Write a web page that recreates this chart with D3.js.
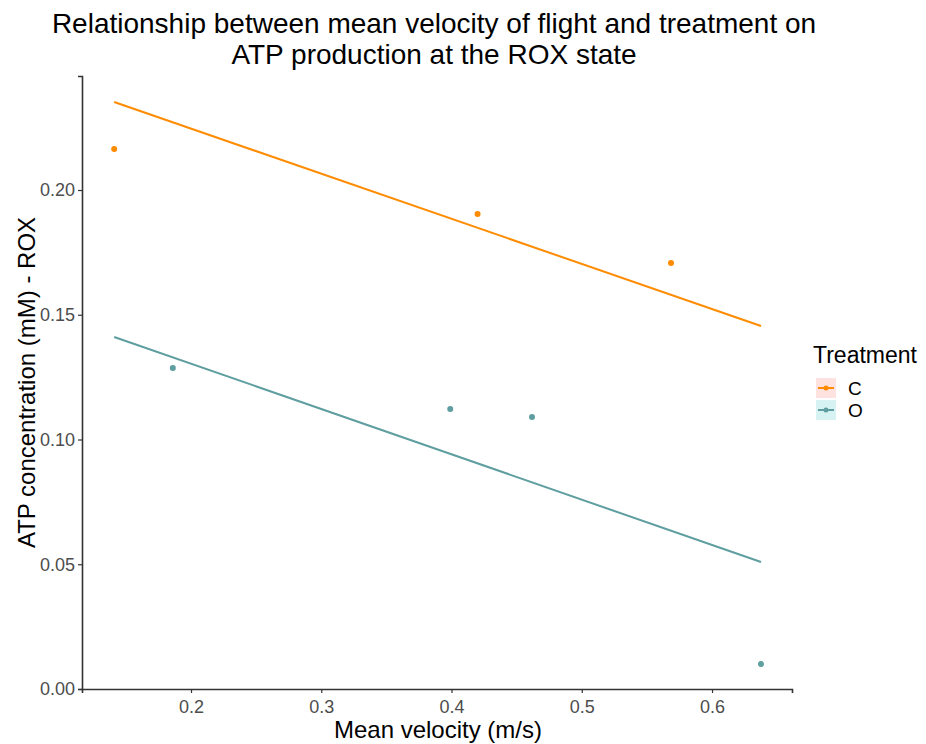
<!DOCTYPE html>
<html><head><meta charset="utf-8">
<script src="https://cdn.jsdelivr.net/npm/d3@7"></script>
<style>body{margin:0;background:#fff}text{font-family:"Liberation Sans",Arial,sans-serif}</style>
</head><body><svg id="c" width="926" height="744"></svg>
<script>
const treatments = ["C", "O"];
const colors = ["#FF8C00", "#5F9EA0"];
const keyFills = ["#FDE2E0", "#D6F2F3"];
const velocityC = [0.141, 0.420, 0.5685];
const atpC = [0.2164, 0.1904, 0.1707];
const velocityO = [0.186, 0.399, 0.4618, 0.6376];
const atpO = [0.1287, 0.1122, 0.1090, 0.0100];
const fitX = [0.141, 0.6376];
const fitC = [0.2353, 0.1455];
const fitO = [0.1411, 0.0509];
const xTicks = [0.2, 0.3, 0.4, 0.5, 0.6];
const yTicks = [0.00, 0.05, 0.10, 0.15, 0.20];

const svg = d3.select("#c");
const L = 82, R = 792, T = 76, B = 689;
const x = d3.scaleLinear().domain([0.1163, 0.6614]).range([L, R]);
const y = d3.scaleLinear().domain([0, 0.2457]).range([B, T]);

const series = [
  {pts: velocityC.map((v,i)=>[v, atpC[i]]), fit: fitX.map((v,i)=>[v, fitC[i]])},
  {pts: velocityO.map((v,i)=>[v, atpO[i]]), fit: fitX.map((v,i)=>[v, fitO[i]])}
];

const line = d3.line().x(d=>x(d[0])).y(d=>y(d[1]));
series.forEach((s, i) => {
  svg.append("path").attr("d", line(s.fit)).attr("fill","none")
    .attr("stroke", colors[i]).attr("stroke-width", 2);
  svg.selectAll(null).data(s.pts).enter().append("circle")
    .attr("cx", d=>x(d[0])).attr("cy", d=>y(d[1])).attr("r", 3)
    .attr("fill", colors[i]);
});

// axes
const xa = svg.append("g").attr("transform", `translate(0,${B})`)
  .call(d3.axisBottom(x).tickValues(xTicks).tickFormat(d3.format(".1f")).tickSizeOuter(0).tickSize(4).tickPadding(7));
const ya = svg.append("g").attr("transform", `translate(${L},0)`)
  .call(d3.axisLeft(y).tickValues(yTicks).tickFormat(d3.format(".2f")).tickSizeOuter(0).tickSize(4).tickPadding(3));
[xa, ya].forEach(a => {
  a.select(".domain").attr("stroke", "#333").attr("stroke-width", 1.6);
  a.selectAll(".tick line").attr("stroke", "#333").attr("stroke-width", 1.2);
  a.selectAll(".tick text").attr("fill", "#4D4D4D").style("font-size", "18px")
    .style("font-family", '"Liberation Sans",Arial,sans-serif');
});

// titles
svg.append("text").attr("x", 434).attr("y", 33).attr("text-anchor","middle")
  .style("font-size","28px").attr("fill","#000")
  .text("Relationship between mean velocity of flight and treatment on");
svg.append("text").attr("x", 434).attr("y", 64).attr("text-anchor","middle")
  .style("font-size","28px").attr("fill","#000")
  .text("ATP production at the ROX state");
svg.append("text").attr("x", (L+R)/2 + 1).attr("y", 738).attr("text-anchor","middle")
  .style("font-size","24px").text("Mean velocity (m/s)");
svg.append("text").attr("transform", `translate(35,${(T+B)/2}) rotate(-90)`)
  .attr("text-anchor","middle").style("font-size","24px").text("ATP concentration (mM) - ROX");

// legend
svg.append("text").attr("x", 813).attr("y", 363).style("font-size","23px").text("Treatment");
treatments.forEach((t, i) => {
  const ky = 378 + i * 22;
  svg.append("rect").attr("x", 816).attr("y", ky).attr("width", 20).attr("height", 20).attr("fill", keyFills[i]);
  svg.append("line").attr("x1", 818).attr("x2", 834).attr("y1", ky+10).attr("y2", ky+10)
    .attr("stroke", colors[i]).attr("stroke-width", 2);
  svg.append("circle").attr("cx", 826).attr("cy", ky+10).attr("r", 2.5).attr("fill", colors[i]);
  svg.append("text").attr("x", 848).attr("y", ky+17).style("font-size","19px").text(t);
});
</script></body></html>
